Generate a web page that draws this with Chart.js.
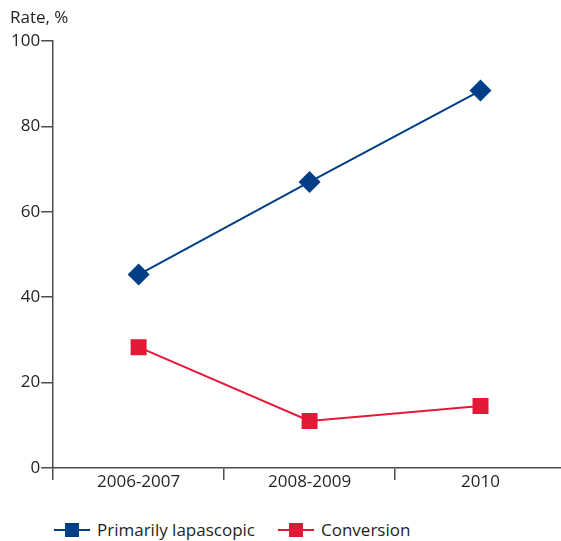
<!DOCTYPE html>
<html>
<head>
<meta charset="utf-8">
<script src="https://cdn.jsdelivr.net/npm/chart.js@4"></script>
<style>
    html, body { margin: 0; padding: 0; background: #fff; }
    #wrap { position: relative; width: 561px; height: 541px; overflow: hidden; }
    #box { position: absolute; left: 0; top: 0; width: 580px; height: 510px; }
    .leg { position: absolute; top: 518px; display: flex; align-items: center;
           font-family: 'Open Sans', sans-serif; font-size: 17px; color: #231f20; }
    .mk { position: relative; width: 36px; height: 14px; margin-right: 7px; }
    .mk .ln { position: absolute; left: 0; right: 0; top: 6px; height: 2px; }
    .mk .sq { position: absolute; left: 11px; top: 0; width: 14px; height: 14px; }
</style>
</head>
<body>
<div id="wrap">
    <div id="box"><canvas id="grafico"></canvas></div>
    <div class="leg" style="left:54px">
        <span class="mk"><span class="ln" style="background:#003f87"></span><span class="sq" style="background:#003f87"></span></span>
        <span>Primarily lapascopic</span>
    </div>
    <div class="leg" style="left:278px">
        <span class="mk"><span class="ln" style="background:#e31937"></span><span class="sq" style="background:#e31937"></span></span>
        <span>Conversion</span>
    </div>
</div>
<script>
document.addEventListener("DOMContentLoaded", function () {

    const periodos = ['2006-2007', '2008-2009', '2010'];
    const laparoscopico = [45.3, 67.0, 88.4];
    const conversion = [28.3, 11.0, 14.5];
    const ticksY = [0, 20, 40, 60, 80, 100];

    const azul = '#003f87';
    const rojo = '#e31937';
    const ejeColor = '#4d4d4d';
    const fuente = { family: "'Open Sans', sans-serif", size: 17 };

    const ctx = document.getElementById('grafico');

    new Chart(ctx.getContext('2d'), {
        type: 'line',
        data: {
            labels: periodos,
            datasets: [{
                label: 'Primarily lapascopic',
                data: laparoscopico,
                borderColor: azul,
                backgroundColor: azul,
                borderWidth: 2,
                pointStyle: 'rectRot',
                pointRadius: 11,
                pointBorderWidth: 0,
                tension: 0
            }, {
                label: 'Conversion',
                data: conversion,
                borderColor: rojo,
                backgroundColor: rojo,
                borderWidth: 2,
                pointStyle: 'rect',
                pointRadius: 11.3,
                pointBorderWidth: 0,
                tension: 0
            }]
        },
        options: {
            responsive: true,
            maintainAspectRatio: false,
            animation: false,
            layout: { padding: { left: 10, right: 14, bottom: 12 } },
            plugins: {
                legend: { display: false },
                tooltip: { enabled: false },
                title: {
                    display: true,
                    text: 'Rate, %',
                    align: 'start',
                    color: '#231f20',
                    font: { family: fuente.family, size: 17, weight: 'normal' },
                    padding: { top: 8, bottom: 12.6 }
                }
            },
            scales: {
                x: {
                    offset: true,
                    afterFit: eje => { eje.height = 30; },
                    grid: {
                        offset: true,
                        drawOnChartArea: false,
                        tickLength: 12,
                        color: ejeColor,
                        lineWidth: 1.5
                    },
                    border: { color: ejeColor, width: 1.5 },
                    ticks: { color: '#231f20', font: fuente, padding: -8 }
                },
                y: {
                    min: 0,
                    max: 100,
                    afterBuildTicks: axis => { axis.ticks = ticksY.map(v => ({ value: v })); },
                    grid: {
                        drawOnChartArea: false,
                        tickLength: 12,
                        color: ejeColor,
                        lineWidth: 1.5
                    },
                    border: { color: ejeColor, width: 1.5 },
                    ticks: { color: '#231f20', font: fuente, padding: 1 }
                }
            }
        }
    });

});
</script>
</body>
</html>
